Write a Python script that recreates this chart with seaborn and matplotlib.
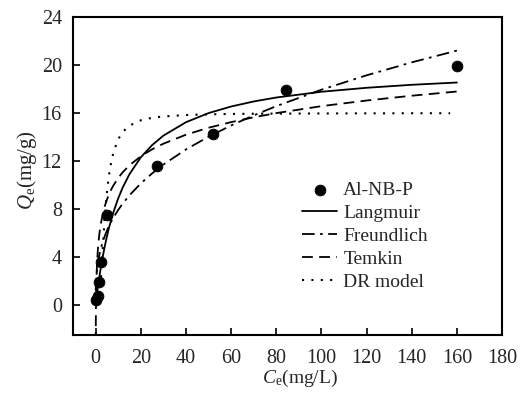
import numpy as np
import pandas as pd
import matplotlib
matplotlib.use('Agg')
import matplotlib.pyplot as plt
import seaborn as sns

# measured points
ce_obs = [0.4, 1.0, 1.5, 2.6, 5.2, 27, 52, 84.5, 160]
qe_obs = [0.45, 0.8, 1.95, 3.6, 7.5, 11.6, 14.3, 17.9, 19.95]

# fitted curves
ce_fit = [0.05, 0.1, 0.2, 0.3, 0.5, 0.75, 1, 1.5, 2, 3, 4, 5, 6, 7, 8, 10, 12, 15,
          20, 25, 30, 40, 50, 60, 70, 80, 100, 120, 140, 160]
q_langmuir = [0.08, 0.16, 0.32, 0.47, 0.77, 1.13, 1.48, 2.14, 2.76, 3.87, 4.85, 5.71,
              6.49, 7.18, 7.80, 8.89, 9.80, 10.91, 12.31, 13.33, 14.12, 15.24, 16.0,
              16.55, 16.97, 17.30, 17.78, 18.11, 18.36, 18.55]
q_freundlich = [1.21, 1.55, 1.98, 2.28, 2.74, 3.16, 3.5, 4.04, 4.48, 5.17, 5.73, 6.20,
                6.61, 6.98, 7.32, 7.93, 8.46, 9.15, 10.14, 10.97, 11.71, 12.97, 14.03,
                14.97, 15.81, 16.58, 17.95, 19.15, 20.23, 21.21]
q_temkin = [-3.18, -1.38, 0.42, 1.48, 2.80, 3.86, 4.61, 5.66, 6.41, 7.46, 8.21, 8.79,
            9.27, 9.67, 10.01, 10.59, 11.07, 11.65, 12.40, 12.98, 13.45, 14.20, 14.78,
            15.25, 15.65, 16.00, 16.58, 17.05, 17.45, 17.80]
ce_dr = [1, 1.5, 2, 3, 4, 5, 6, 7, 8, 10, 12, 15, 20, 25, 30, 40, 50, 60, 70, 80,
         100, 120, 140, 157]
q_dr = [0.01, 0.24, 1.13, 4.22, 7.18, 9.37, 10.91, 12.01, 12.80, 13.82, 14.43, 14.96,
        15.40, 15.61, 15.72, 15.84, 15.90, 15.93, 15.95, 15.96, 15.97, 15.98, 15.99, 15.99]

sns.set_style('ticks')
plt.rcParams['font.family'] = ['Liberation Serif', 'DejaVu Serif']
plt.rcParams['mathtext.fontset'] = 'custom'
plt.rcParams['mathtext.rm'] = 'Liberation Serif'
plt.rcParams['mathtext.it'] = 'Liberation Serif:italic'
plt.rcParams['font.size'] = 14

fig = plt.figure(figsize=(5.23, 3.98), dpi=100)
ax = fig.add_axes([0.1396, 0.158, 0.8204, 0.799])

df_fit = pd.DataFrame({'ce': ce_fit, 'lang': q_langmuir, 'freu': q_freundlich, 'temk': q_temkin})
df_dr = pd.DataFrame({'ce': ce_dr, 'q': q_dr})
df_obs = pd.DataFrame({'ce': ce_obs, 'qe': qe_obs})

sns.scatterplot(data=df_obs, x='ce', y='qe', ax=ax, color='black', s=60,
                edgecolor='black', label='Al-NB-P', zorder=5)
sns.lineplot(data=df_fit, x='ce', y='lang', ax=ax, color='black', lw=1.3,
             label='Langmuir')
sns.lineplot(data=df_fit, x='ce', y='freu', ax=ax, color='black', lw=1.3,
             label='Freundlich').lines[-1].set_linestyle((0, (7, 3, 1.5, 3)))
sns.lineplot(data=df_fit, x='ce', y='temk', ax=ax, color='black', lw=1.3,
             label='Temkin').lines[-1].set_linestyle((0, (6, 3.5)))
sns.lineplot(data=df_dr, x='ce', y='q', ax=ax, color='black', lw=1.5,
             label='DR model').lines[-1].set_linestyle((0, (1, 3.5)))

ax.set_xlim(-10, 180)
ax.set_ylim(-2.5, 24)
ax.set_xticks(range(0, 181, 20))
ax.set_yticks(range(0, 25, 4))
ax.tick_params(axis='x', direction='in', length=5, width=1.4, labelsize=14.5, pad=10)
ax.tick_params(axis='y', direction='in', length=5, width=1.4, labelsize=14.5, pad=8)
for s in ax.spines.values():
    s.set_linewidth(1.5)
    s.set_color('black')
ax.set_xlabel(r'$C_\mathrm{e}$(mg/L)', fontsize=14, labelpad=0)
ax.set_ylabel(r'$Q_\mathrm{e}$(mg/g)', fontsize=15, labelpad=2)
ax.xaxis.label.set_x(0.53)
ax.yaxis.label.set_y(0.52)

ax.legend(loc='upper left', bbox_to_anchor=(0.512, 0.515), frameon=False, fontsize=14,
          handlelength=1.8, handletextpad=0.3, labelspacing=0.28, borderpad=0)

plt.savefig('out.png', dpi=100)
